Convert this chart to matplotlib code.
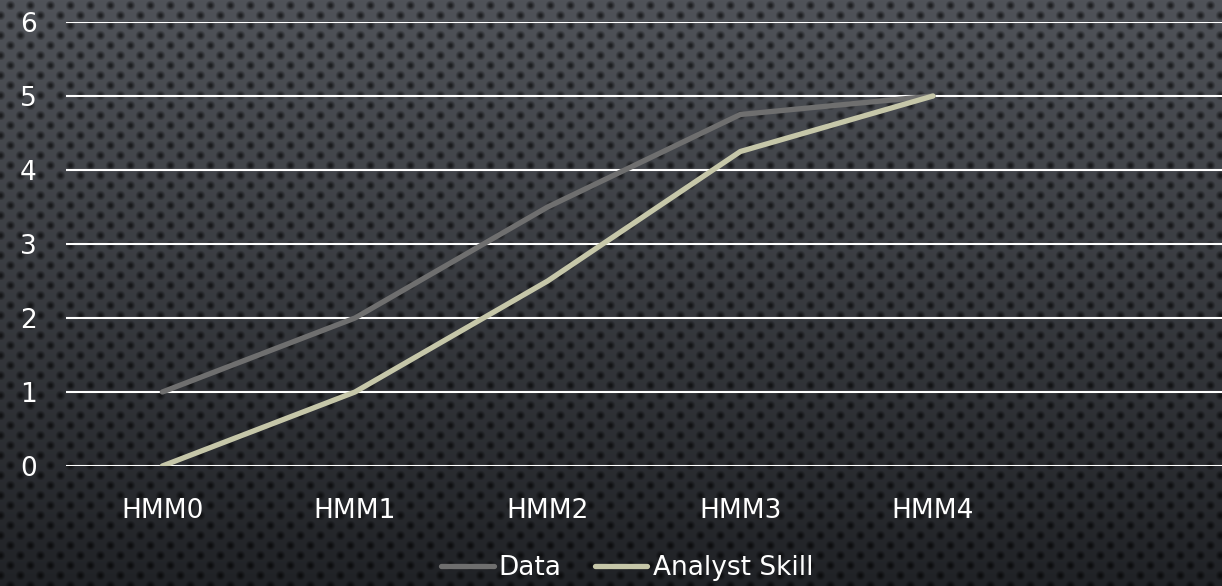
import numpy as np
import matplotlib.pyplot as plt

# chart data
categories = ["HMM0", "HMM1", "HMM2", "HMM3", "HMM4", ""]
data_vals = [1, 2, 3.5, 4.75, 5]
skill_vals = [0, 1, 2.5, 4.25, 5]
y_ticks = [0, 1, 2, 3, 4, 5, 6]

plt.rcParams['font.family'] = ['DejaVu Sans']

W, H = 1222, 586
fig = plt.figure(figsize=(W / 100, H / 100), dpi=100)

# dotted dark background with vertical gradient
yy, xx = np.mgrid[0:H, 0:W]
top = np.array([80, 83, 89]) / 255.0
bot = np.array([32, 34, 38]) / 255.0
t = (yy / (H - 1))[..., None]
bg = top * (1 - t) + bot * t
step = 10
row = yy // step
cx = (xx + (row % 2) * step) % (2 * step) - step
cy = yy % step - step / 2
d = np.sqrt(cx ** 2 + cy ** 2)
shade = np.clip(1.3 - d / 4.0, 0, 1)[..., None]
bg = bg * (1 - 0.6 * shade)
bg_ax = fig.add_axes([0, 0, 1, 1], zorder=-10)
bg_ax.imshow(bg, aspect="auto", interpolation="bilinear")
bg_ax.axis("off")

ax = fig.add_axes([66 / W, 1 - 466 / H, 1 - 66 / W, (466 - 22) / H])
ax.patch.set_alpha(0)
x = np.arange(len(categories))

for yv in y_ticks:
    ax.axhline(yv, color="white", lw=1.5, zorder=1)

ax.plot(x[:len(data_vals)], data_vals, color="#6f6f6f", lw=3.8,
        solid_capstyle="round", label="Data", zorder=3)
ax.plot(x[:len(skill_vals)], skill_vals, color="#c6c7a9", lw=3.8,
        solid_capstyle="round", label="Analyst Skill", zorder=4)

ax.set_xlim(-0.5, len(categories) - 0.5)
ax.set_ylim(0, 6)
ax.set_xticks(x)
ax.set_xticklabels(categories)
ax.set_yticks(y_ticks)
for s in ax.spines.values():
    s.set_visible(False)
ax.tick_params(axis="both", length=0, colors="white", labelsize=19)
ax.tick_params(axis="x", pad=23)
ax.tick_params(axis="y", pad=21)

leg = fig.legend(loc="center", bbox_to_anchor=(627 / W, 1 - 568 / H), ncol=2,
                 frameon=False, fontsize=19, handlelength=2.0,
                 handletextpad=0.2, columnspacing=1.25, labelcolor="white")
for h in leg.get_lines():
    h.set_linewidth(3.8)

fig.savefig("out.png", dpi=100)
